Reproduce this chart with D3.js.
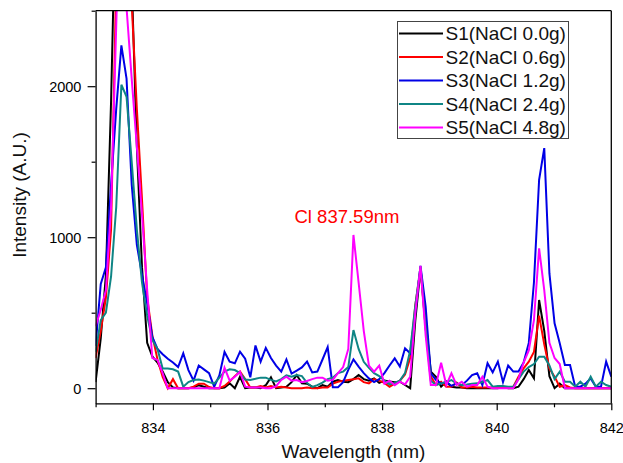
<!DOCTYPE html>
<html>
<head>
<meta charset="utf-8">
<script src="https://cdn.jsdelivr.net/npm/d3@7"></script>
<style>
  html, body { margin: 0; padding: 0; background: #fff; }
  svg { display: block; font-family: "Liberation Sans", Arial, sans-serif; }
</style>
</head>
<body>
<svg id="chart" width="623" height="463"></svg>
<script>
// ---- Data ----
const wavelengths = [
  833.00, 833.09, 833.18, 833.27, 833.36, 833.45, 833.54, 833.63, 833.72, 833.81,
  833.90, 833.99, 834.08, 834.17, 834.26, 834.35, 834.44, 834.53, 834.62, 834.71,
  834.80, 834.89, 834.98, 835.07, 835.16, 835.25, 835.34, 835.43, 835.52, 835.61,
  835.70, 835.79, 835.88, 835.97, 836.06, 836.15, 836.24, 836.33, 836.42, 836.51,
  836.60, 836.69, 836.78, 836.87, 836.96, 837.05, 837.14, 837.23, 837.32, 837.41,
  837.50, 837.59, 837.68, 837.77, 837.86, 837.95, 838.04, 838.13, 838.22, 838.31,
  838.40, 838.49, 838.58, 838.67, 838.76, 838.85, 838.94, 839.03, 839.12, 839.21,
  839.30, 839.39, 839.48, 839.57, 839.66, 839.75, 839.84, 839.93, 840.02, 840.11,
  840.20, 840.29, 840.38, 840.47, 840.56, 840.65, 840.74, 840.83, 840.92, 841.01,
  841.10, 841.19, 841.28, 841.37, 841.46, 841.55, 841.64, 841.73, 841.82, 841.91,
  842.00
];

const s1 = [
  40, 330, 750, 1900, 3400, 4500, 4000, 2700, 1600, 800,
  300, 210, 170, 110, 40, 5, 0, 0, 0, 5,
  20, 10, 0, 0, 0, 5, 32, 0, 76, 0,
  5, 5, 0, 20, 72, 0, 5, 10, 40, 87,
  32, 30, 10, 0, 20, 10, 43, 54, 43, 40,
  60, 87, 60, 50, 65, 35, 50, 45, 40, 43,
  21, 0, 450, 790, 450, 110, 76, 10, 43, 10,
  5, 5, 0, 0, 0, 0, 0, 0, 0, 10,
  0, 0, 10, 60, 120, 65, 584, 380, 80, 0,
  30, 0, 0, 0, 0, 0, 0, 0, 0, 0,
  0
];

const s2 = [
  200, 380, 600, 1050, 2700, 4200, 4000, 2550, 1850, 1250,
  600, 350, 190, 75, 0, 60, 0, 0, 0, 10,
  30, 30, 8, 0, 0, 15, 45, 80, 110, 60,
  5, 5, 14, 5, 15, 5, 10, 5, 0, 0,
  0, 5, 0, 0, 5, 5, 30, 43, 50, 55,
  60, 65, 40, 32, 60, 50, 35, 10, 30, 50,
  90, 200, 550, 790, 400, 80, 20, 43, 10, 10,
  37, 5, 5, 10, 5, 5, 5, 5, 5, 5,
  8, 10, 76, 132, 176, 240, 480, 290, 130, 76,
  10, 20, 5, 0, 0, 0, 0, 0, 0, 0,
  0
];

const s3 = [
  280, 690, 800, 1350, 1850, 2270, 2050, 1350, 950, 750,
  560, 340, 260, 225, 195, 170, 140, 231, 120, 50,
  150, 125, 100, 10, 85, 240, 175, 165, 242, 195,
  72, 283, 176, 267, 200, 150, 110, 190, 97, 116,
  138, 176, 104, 110, 190, 272, 6, 6, 40, 121,
  191, 143, 100, 65, 40, 60, 100, 150, 198, 143,
  264, 231, 500, 810, 540, 99, 54, 30, 43, 15,
  32, 20, 50, 87, 99, 21, 165, 105, 176, 40,
  150, 110, 110, 170, 300, 700, 1380, 1590, 760, 430,
  297, 154, 154, 10, 10, 30, 65, 10, 10, 176,
  76
];

const s4 = [
  240, 450, 500, 740, 1200, 2010, 1930, 1500, 1050, 700,
  480, 320, 260, 130, 130, 125, 110, 10, 41, 54,
  58, 50, 40, 30, 70, 110, 125, 120, 100, 58,
  55, 62, 70, 70, 55, 45, 60, 85, 76, 87,
  80, 35, 8, 20, 37, 60, 70, 100, 110, 140,
  385, 260, 175, 135, 100, 80, 50, 25, 35, 50,
  100, 250, 550, 805, 400, 50, 21, 32, 40, 54,
  30, 21, 25, 30, 32, 40, 54, 10, 15, 15,
  10, 10, 60, 110, 140, 160, 209, 209, 150, 60,
  110, 43, 43, 10, 43, 10, 76, 10, 43, 21,
  10
];

const s5 = [
  410, 520, 650, 1200, 2400, 3600, 2520, 2050, 1600, 1150,
  650, 200, 187, 100, 0, 0, 0, 0, 0, 0,
  0, 0, 0, 0, 0, 135, 50, 76, 109, 10,
  5, 5, 5, 0, 0, 14, 55, 76, 50, 54,
  40, 48, 60, 70, 70, 50, 55, 100, 140, 260,
  1015, 700, 380, 150, 110, 150, 30, 50, 20, 43,
  25, 76, 500, 810, 350, 21, 21, 169, 21, 99,
  21, 43, 10, 21, 21, 76, 10, 0, 0, 0,
  0, 0, 60, 170, 250, 450, 926, 650, 300, 200,
  160, 0, 0, 0, 0, 0, 0, 0, 0, 0,
  0
];

const seriesNames = ["S1(NaCl 0.0g)", "S2(NaCl 0.6g)", "S3(NaCl 1.2g)", "S4(NaCl 2.4g)", "S5(NaCl 4.8g)"];
const seriesValues = [s1, s2, s3, s4, s5];
const seriesColors = ["#000000", "#ff0000", "#0000e6", "#0f8585", "#ff00ff"];

const xMajorTicks = [834, 836, 838, 840, 842];
const xMinorTicks = [833, 835, 837, 839, 841];
const yMajorTicks = [0, 1000, 2000];
const yMinorTicks = [500, 1500, 2500];

const annotationText = "Cl 837.59nm";
const xTitle = "Wavelength (nm)";
const yTitle = "Intensity (A.U.)";

// ---- Layout ----
const svg = d3.select("#chart");
const plot = { left: 95.6, right: 611.3, top: 10.7, bottom: 403.3 };

const x = d3.scaleLinear().domain([833, 842]).range([plot.left, plot.right]);
const y = d3.scaleLinear().domain([-100, 2500]).range([plot.bottom, plot.top]);

svg.append("defs").append("clipPath").attr("id", "plotClip")
  .append("rect")
  .attr("x", plot.left).attr("y", plot.top)
  .attr("width", plot.right - plot.left).attr("height", plot.bottom - plot.top);

// Lines
const line = d3.line()
  .x((d, i) => x(wavelengths[i]))
  .y(d => y(d));

const lineG = svg.append("g").attr("clip-path", "url(#plotClip)");
seriesValues.forEach((vals, k) => {
  lineG.append("path")
    .datum(vals)
    .attr("d", line)
    .attr("fill", "none")
    .attr("stroke", seriesColors[k])
    .attr("stroke-width", 2)
    .attr("stroke-linejoin", "miter");
});

// Frame (top/right)
svg.append("line").attr("x1", plot.left).attr("x2", plot.right)
  .attr("y1", plot.top).attr("y2", plot.top)
  .attr("stroke", "#000").attr("stroke-width", 1.3);
svg.append("line").attr("x1", plot.right).attr("x2", plot.right)
  .attr("y1", plot.top).attr("y2", plot.bottom)
  .attr("stroke", "#000").attr("stroke-width", 1.3);

// X axis
const xAxisG = svg.append("g").attr("transform", `translate(0,${plot.bottom})`);
xAxisG.call(d3.axisBottom(x).tickValues(xMajorTicks).tickSize(7).tickSizeOuter(0)
  .tickFormat(d3.format("d")));
const xMinorG = svg.append("g").attr("transform", `translate(0,${plot.bottom})`);
xMinorG.call(d3.axisBottom(x).tickValues(xMinorTicks).tickSize(4).tickSizeOuter(0)
  .tickFormat(""));
xMinorG.select(".domain").remove();

xAxisG.selectAll("text")
  .attr("y", 0).attr("dy", null)
  .attr("transform", "translate(0,29.2)")
  .attr("font-size", "14.5px")
  .attr("fill", "#000")
  .attr("font-family", "'Liberation Sans', Arial, sans-serif");

// Y axis
const yAxisG = svg.append("g").attr("transform", `translate(${plot.left},0)`);
yAxisG.call(d3.axisLeft(y).tickValues(yMajorTicks).tickSize(8).tickSizeOuter(0)
  .tickFormat(d3.format("d")));
const yMinorG = svg.append("g").attr("transform", `translate(${plot.left},0)`);
yMinorG.call(d3.axisLeft(y).tickValues(yMinorTicks).tickSize(4).tickSizeOuter(0)
  .tickFormat(""));
yMinorG.select(".domain").remove();

yAxisG.selectAll("text")
  .attr("x", -14.2).attr("dy", "0.36em")
  .attr("font-size", "14.5px")
  .attr("fill", "#000")
  .attr("font-family", "'Liberation Sans', Arial, sans-serif");

svg.selectAll(".domain").attr("stroke", "#000").attr("stroke-width", 1.3);
svg.selectAll(".tick line").attr("stroke", "#000").attr("stroke-width", 1.2);

// Axis titles
svg.append("text")
  .attr("x", (plot.left + plot.right) / 2).attr("y", 458)
  .attr("text-anchor", "middle")
  .attr("font-size", "19px").attr("fill", "#111")
  .text(xTitle);

svg.append("text")
  .attr("transform", "translate(26,195) rotate(-90)")
  .attr("text-anchor", "middle")
  .attr("font-size", "19px").attr("fill", "#111")
  .text(yTitle);

// Annotation
svg.append("text")
  .attr("x", 294.5).attr("y", 223)
  .attr("font-size", "18.5px").attr("fill", "#ff0000")
  .text(annotationText);

// Legend
const legend = svg.append("g");
legend.append("rect")
  .attr("x", 397.5).attr("y", 21.5).attr("width", 171).attr("height", 117)
  .attr("fill", "#fff").attr("stroke", "#444").attr("stroke-width", 1);
seriesNames.forEach((name, k) => {
  const cy = 33.6 + k * 23.5;
  legend.append("line")
    .attr("x1", 399).attr("x2", 443).attr("y1", cy).attr("y2", cy)
    .attr("stroke", seriesColors[k]).attr("stroke-width", 2);
  legend.append("text")
    .attr("x", 445.5).attr("y", cy + 6.8)
    .attr("font-size", "19px").attr("fill", "#111")
    .text(name);
});
</script>
</body>
</html>
